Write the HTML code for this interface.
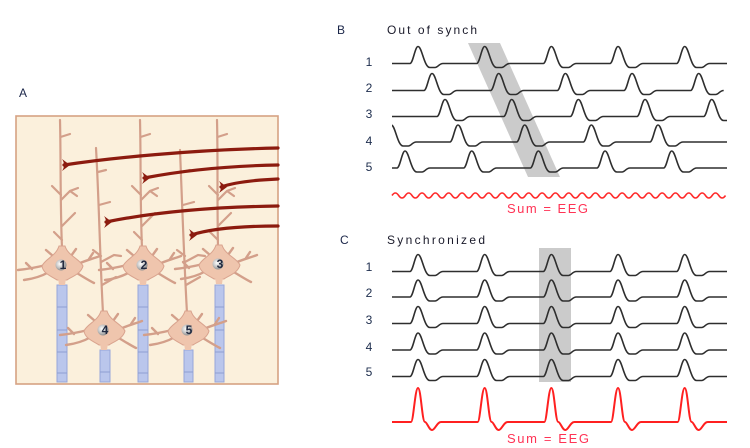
<!DOCTYPE html>
<html><head><meta charset="utf-8"><style>
html,body{margin:0;padding:0;background:#fff;}
svg{display:block;}
text{font-family:"Liberation Sans",sans-serif;}
</style></head><body>
<svg width="750" height="448" viewBox="0 0 750 448" xmlns="http://www.w3.org/2000/svg">
<defs>
<clipPath id="clipB"><rect x="392" y="20" width="335" height="170"/></clipPath>
<radialGradient id="badge" cx="0.4" cy="0.4" r="0.6">
<stop offset="0" stop-color="#ffffff"/><stop offset="0.6" stop-color="#c4c4c4"/><stop offset="1" stop-color="#8e8e8e"/>
</radialGradient>
<g id="soma">
<g fill="none" stroke="#d39f8a" stroke-width="2.4" stroke-linecap="round">
<path d="M-16,0 C-24,2 -34,4 -44,5"/>
<path d="M-13,7 C-20,11 -30,14 -38,15"/>
<path d="M-30,4 L-36,-2"/>
<path d="M16,-1 C22,-4 30,-6 38,-9"/>
<path d="M13,7 C20,11 26,15 32,18"/>
<path d="M27,-6 L31,-12"/>
<path d="M-9,-9 L-16,-15"/>
<path d="M9,-9 L14,-16"/>
</g>
<path d="M-3,-19 C-6,-9 -17,-6 -20,1 C-19,9 -9,12 -5,15 L5,15 C9,12 19,9 21,1 C18,-6 6,-9 3,-19 Z" fill="#efc5ad" stroke="#d9a38e" stroke-width="1"/>
<path d="M-4,13 L-3,20 L3,20 L4,13 Z" fill="#efc5ad"/>
<circle cx="-1" cy="0" r="5.5" fill="url(#badge)"/>
</g>
</defs>

<!-- Panel A -->
<text x="19" y="97" font-size="12" fill="#1a2548">A</text>
<rect x="16" y="116" width="262" height="268" fill="#fbf0dc" stroke="#d6a283" stroke-width="1.6"/>

<!-- apical dendrites -->
<g fill="none" stroke="#d39f8a" stroke-width="2.2" stroke-linecap="round">
<path d="M60,120 C61,160 60,200 62,248"/>
<path d="M140,120 C141,160 140,200 142,248"/>
<path d="M217,120 C218,160 217,200 218,247"/>
<path d="M96,148 C99,200 100,260 103,313"/>
<path d="M180,150 C182,200 184,260 187,313"/>
<!-- branches N1 -->
<path d="M60.5,137 L70,134"/>
<path d="M61,195 L52,186"/>
<path d="M61,200 L70,191 L78,188 M70,191 L77,196"/>
<path d="M62,226 L75,213"/>
<path d="M62,240 L54,232"/>
<!-- N2 -->
<path d="M140.5,137 L150,134"/>
<path d="M141,195 L132,186"/>
<path d="M141,200 L150,191 L158,188 M150,191 L157,196"/>
<path d="M142,226 L155,213"/>
<path d="M142,240 L134,232"/>
<!-- N3 -->
<path d="M217.5,137 L227,134"/>
<path d="M218,195 L209,186"/>
<path d="M218,200 L227,191 L235,188 M227,191 L234,196"/>
<path d="M218,226 L231,213"/>
<path d="M218,240 L210,232"/>
<!-- N4 -->
<path d="M98,172 L106,170"/>
<path d="M99,205 L110,202"/>
<path d="M101,256 L93,250"/>
<path d="M101,262 L114,255 L121,256"/>
<path d="M102,285 L116,277"/>
<!-- N5 -->
<path d="M182,172 L190,170"/>
<path d="M183,205 L194,202"/>
<path d="M185,256 L177,250"/>
<path d="M185,262 L198,255 L205,256"/>
<path d="M186,285 L200,277"/>
</g>

<!-- myelin -->
<g fill="#bac6ec" stroke="#97a6da" stroke-width="1">
<rect x="57" y="285" width="10" height="97"/>
<rect x="138" y="285" width="10" height="97"/>
<rect x="215" y="285" width="9" height="97"/>
<rect x="100" y="350" width="10" height="32"/>
<rect x="184" y="350" width="9" height="32"/>
</g>
<g stroke="#8e9dd2" stroke-width="1">
<path d="M57,307 H67 M57,330 H67 M57,352 H67 M57,373 H67"/>
<path d="M138,307 H148 M138,330 H148 M138,352 H148 M138,373 H148"/>
<path d="M215,307 H224 M215,330 H224 M215,352 H224 M215,373 H224"/>
<path d="M100,372 H110"/>
<path d="M184,372 H193"/>
</g>

<!-- somas -->
<use href="#soma" x="62" y="265"/>
<use href="#soma" x="143" y="265"/>
<use href="#soma" x="219" y="264"/>
<use href="#soma" x="104" y="330"/>
<use href="#soma" x="188" y="330"/>
<g font-size="12" font-weight="bold" fill="#222a40" text-anchor="middle">
<text x="63" y="269">1</text>
<text x="144" y="269">2</text>
<text x="220" y="268">3</text>
<text x="105" y="334">4</text>
<text x="189" y="334">5</text>
</g>

<!-- red axons -->
<g fill="none" stroke="#8c1b0f" stroke-width="3.2" stroke-linecap="round">
<path d="M64,165 C110,158 190,150 278,148"/>
<path d="M144,178 C175,172 220,166 278,165"/>
<path d="M221,187 C235,182 255,180 278,179"/>
<path d="M106,222 C150,213 210,207 278,206"/>
<path d="M191,235 C210,229 240,226 278,226"/>
</g>
<g fill="#8c1b0f">
<path d="M62,159 Q66,165 62,171 L70,165 Z"/>
<path d="M142,172 Q146,178 142,184 L150,178 Z"/>
<path d="M219,181 Q223,187 219,193 L227,187 Z"/>
<path d="M104,216 Q108,222 104,228 L112,222 Z"/>
<path d="M189,229 Q193,235 189,241 L197,235 Z"/>
</g>

<!-- Panel B -->
<text x="337" y="34" font-size="12" fill="#1a2548">B</text>
<text x="387" y="34" font-size="12" fill="#1a1a2a" textLength="90">Out of synch</text>
<g font-size="12" fill="#1c2c4c" text-anchor="middle">
<text x="369" y="66">1</text>
<text x="369" y="92">2</text>
<text x="369" y="118">3</text>
<text x="369" y="145">4</text>
<text x="369" y="171">5</text>
</g>
<polygon points="468,43 500,43 560,177 528,177" fill="#cbcbcb"/>
<g clip-path="url(#clipB)" fill="none" stroke="#2e2e2e" stroke-width="1.6">
<path d="M392,63.5 H410 c3,0 5,-17 8,-17 c4,0 6,21 12,21 h5 c3,0 4,-4 8,-4 h33.67 c3,0 5,-17 8,-17 c4,0 6,21 12,21 h5 c3,0 4,-4 8,-4 h33.67 c3,0 5,-17 8,-17 c4,0 6,21 12,21 h5 c3,0 4,-4 8,-4 h33.67 c3,0 5,-17 8,-17 c4,0 6,21 12,21 h5 c3,0 4,-4 8,-4 h33.67 c3,0 5,-17 8,-17 c4,0 6,21 12,21 h5 c3,0 4,-4 8,-4 H727"/>
<path d="M392,90.5 H424 c3,0 5,-17 8,-17 c4,0 6,21 12,21 h5 c3,0 4,-4 8,-4 h33.67 c3,0 5,-17 8,-17 c4,0 6,21 12,21 h5 c3,0 4,-4 8,-4 h33.67 c3,0 5,-17 8,-17 c4,0 6,21 12,21 h5 c3,0 4,-4 8,-4 h33.67 c3,0 5,-17 8,-17 c4,0 6,21 12,21 h5 c3,0 4,-4 8,-4 h33.67 c3,0 5,-17 8,-17 c4,0 6,21 12,21 h5 c3,0 4,-4 8,-4"/>
<path d="M392,116.5 H437 c3,0 5,-17 8,-17 c4,0 6,21 12,21 h5 c3,0 4,-4 8,-4 h33.67 c3,0 5,-17 8,-17 c4,0 6,21 12,21 h5 c3,0 4,-4 8,-4 h33.67 c3,0 5,-17 8,-17 c4,0 6,21 12,21 h5 c3,0 4,-4 8,-4 h33.67 c3,0 5,-17 8,-17 c4,0 6,21 12,21 h5 c3,0 4,-4 8,-4 h33.67 c3,0 5,-17 8,-17 c4,0 6,21 12,21 h5 c3,0 4,-4 8,-4"/>
<path d="M383.3,142 c3,0 5,-17 8,-17 c4,0 6,21 12,21 h5 c3,0 4,-4 8,-4 h33.67 c3,0 5,-17 8,-17 c4,0 6,21 12,21 h5 c3,0 4,-4 8,-4 h33.67 c3,0 5,-17 8,-17 c4,0 6,21 12,21 h5 c3,0 4,-4 8,-4 h33.67 c3,0 5,-17 8,-17 c4,0 6,21 12,21 h5 c3,0 4,-4 8,-4 h33.67 c3,0 5,-17 8,-17 c4,0 6,21 12,21 h5 c3,0 4,-4 8,-4 H727"/>
<path d="M392,168 H397 c3,0 5,-17 8,-17 c4,0 6,21 12,21 h5 c3,0 4,-4 8,-4 h33.67 c3,0 5,-17 8,-17 c4,0 6,21 12,21 h5 c3,0 4,-4 8,-4 h33.67 c3,0 5,-17 8,-17 c4,0 6,21 12,21 h5 c3,0 4,-4 8,-4 h33.67 c3,0 5,-17 8,-17 c4,0 6,21 12,21 h5 c3,0 4,-4 8,-4 h33.67 c3,0 5,-17 8,-17 c4,0 6,21 12,21 h5 c3,0 4,-4 8,-4 H727"/>
</g>
<path d="M392,195.5 q3.33,-5 6.67,0 t6.67,0 t6.67,0 t6.67,0 t6.67,0 t6.67,0 t6.67,0 t6.67,0 t6.67,0 t6.67,0 t6.67,0 t6.67,0 t6.67,0 t6.67,0 t6.67,0 t6.67,0 t6.67,0 t6.67,0 t6.67,0 t6.67,0 t6.67,0 t6.67,0 t6.67,0 t6.67,0 t6.67,0 t6.67,0 t6.67,0 t6.67,0 t6.67,0 t6.67,0 t6.67,0 t6.67,0 t6.67,0 t6.67,0 t6.67,0 t6.67,0 t6.67,0 t6.67,0 t6.67,0 t6.67,0 t6.67,0 t6.67,0 t6.67,0 t6.67,0 t6.67,0 t6.67,0 t6.67,0 t6.67,0 t6.67,0 t6.67,0" fill="none" stroke="#ff2a2a" stroke-width="1.6"/>
<text x="507" y="213" font-size="13" fill="#ff3355" textLength="81">Sum = EEG</text>

<!-- Panel C -->
<text x="340" y="244" font-size="12" fill="#1a2548">C</text>
<text x="387" y="244" font-size="12" fill="#1a1a2a" textLength="98">Synchronized</text>
<g font-size="12" fill="#1c2c4c" text-anchor="middle">
<text x="369" y="271">1</text>
<text x="369" y="297">2</text>
<text x="369" y="324">3</text>
<text x="369" y="351">4</text>
<text x="369" y="376">5</text>
</g>
<rect x="539" y="248" width="32" height="134" fill="#cbcbcb"/>
<g fill="none" stroke="#2e2e2e" stroke-width="1.6">
<path d="M392,271.5 H410 c3,0 5,-17 8,-17 c4,0 6,21 12,21 h5 c3,0 4,-4 8,-4 h33.67 c3,0 5,-17 8,-17 c4,0 6,21 12,21 h5 c3,0 4,-4 8,-4 h33.67 c3,0 5,-17 8,-17 c4,0 6,21 12,21 h5 c3,0 4,-4 8,-4 h33.67 c3,0 5,-17 8,-17 c4,0 6,21 12,21 h5 c3,0 4,-4 8,-4 h33.67 c3,0 5,-17 8,-17 c4,0 6,21 12,21 h5 c3,0 4,-4 8,-4 H727"/>
<path d="M392,297 H410 c3,0 5,-17 8,-17 c4,0 6,21 12,21 h5 c3,0 4,-4 8,-4 h33.67 c3,0 5,-17 8,-17 c4,0 6,21 12,21 h5 c3,0 4,-4 8,-4 h33.67 c3,0 5,-17 8,-17 c4,0 6,21 12,21 h5 c3,0 4,-4 8,-4 h33.67 c3,0 5,-17 8,-17 c4,0 6,21 12,21 h5 c3,0 4,-4 8,-4 h33.67 c3,0 5,-17 8,-17 c4,0 6,21 12,21 h5 c3,0 4,-4 8,-4 H727"/>
<path d="M392,323.5 H410 c3,0 5,-17 8,-17 c4,0 6,21 12,21 h5 c3,0 4,-4 8,-4 h33.67 c3,0 5,-17 8,-17 c4,0 6,21 12,21 h5 c3,0 4,-4 8,-4 h33.67 c3,0 5,-17 8,-17 c4,0 6,21 12,21 h5 c3,0 4,-4 8,-4 h33.67 c3,0 5,-17 8,-17 c4,0 6,21 12,21 h5 c3,0 4,-4 8,-4 h33.67 c3,0 5,-17 8,-17 c4,0 6,21 12,21 h5 c3,0 4,-4 8,-4 H727"/>
<path d="M392,350 H410 c3,0 5,-17 8,-17 c4,0 6,21 12,21 h5 c3,0 4,-4 8,-4 h33.67 c3,0 5,-17 8,-17 c4,0 6,21 12,21 h5 c3,0 4,-4 8,-4 h33.67 c3,0 5,-17 8,-17 c4,0 6,21 12,21 h5 c3,0 4,-4 8,-4 h33.67 c3,0 5,-17 8,-17 c4,0 6,21 12,21 h5 c3,0 4,-4 8,-4 h33.67 c3,0 5,-17 8,-17 c4,0 6,21 12,21 h5 c3,0 4,-4 8,-4 H727"/>
<path d="M392,376.5 H410 c3,0 5,-17 8,-17 c4,0 6,21 12,21 h5 c3,0 4,-4 8,-4 h33.67 c3,0 5,-17 8,-17 c4,0 6,21 12,21 h5 c3,0 4,-4 8,-4 h33.67 c3,0 5,-17 8,-17 c4,0 6,21 12,21 h5 c3,0 4,-4 8,-4 h33.67 c3,0 5,-17 8,-17 c4,0 6,21 12,21 h5 c3,0 4,-4 8,-4 h33.67 c3,0 5,-17 8,-17 c4,0 6,21 12,21 h5 c3,0 4,-4 8,-4 H727"/>
</g>
<path d="M392,422 H411 c2.5,0 4,-34 7,-34 c3,0 4,34 7,34 c2,0 4,8 7,8 c3,0 5,-8 9,-8 h36.67 c2.5,0 4,-34 7,-34 c3,0 4,34 7,34 c2,0 4,8 7,8 c3,0 5,-8 9,-8 h36.67 c2.5,0 4,-34 7,-34 c3,0 4,34 7,34 c2,0 4,8 7,8 c3,0 5,-8 9,-8 h36.67 c2.5,0 4,-34 7,-34 c3,0 4,34 7,34 c2,0 4,8 7,8 c3,0 5,-8 9,-8 h36.67 c2.5,0 4,-34 7,-34 c3,0 4,34 7,34 c2,0 4,8 7,8 c3,0 5,-8 9,-8 H727" fill="none" stroke="#ff2020" stroke-width="2"/>
<text x="507" y="443" font-size="13" fill="#ff3355" textLength="82">Sum = EEG</text>
</svg>
</body></html>
